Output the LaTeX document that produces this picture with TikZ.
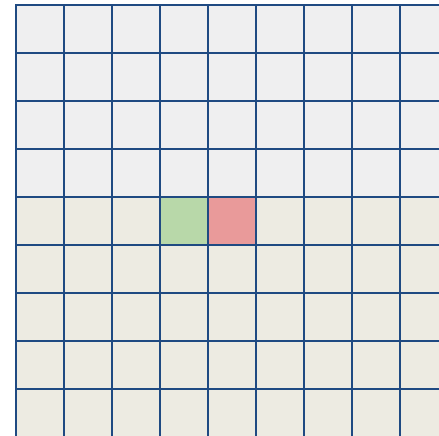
\documentclass[tikz,border=0pt]{standalone}
\definecolor{topgray}{HTML}{EFEFF0}
\definecolor{botbeige}{HTML}{EDEBE2}
\definecolor{gridblue}{HTML}{1F4A82}
\definecolor{cellgreen}{HTML}{B8D8A9}
\definecolor{cellred}{HTML}{E99A9A}
\tikzset{gridline/.style={draw=gridblue,line width=2pt}}
\begin{document}
\begin{tikzpicture}[x=1pt,y=-1pt]
\useasboundingbox (0,0) rectangle (439,436);
\begin{scope}
\clip (0,0) rectangle (439,436);
\fill[topgray] (16,5) rectangle (439,197);
\fill[botbeige] (16,197) rectangle (439,436);
\fill[cellgreen] (160,197) rectangle (208,245);
\fill[cellred] (208,197) rectangle (256,245);
\foreach \k in {0,...,8}{
  \draw[gridline] ({16+48*\k},5) -- ({16+48*\k},437);
  \draw[gridline] (15,{5+48*\k}) -- (440,{5+48*\k});
}
\end{scope}
\end{tikzpicture}
\end{document}
